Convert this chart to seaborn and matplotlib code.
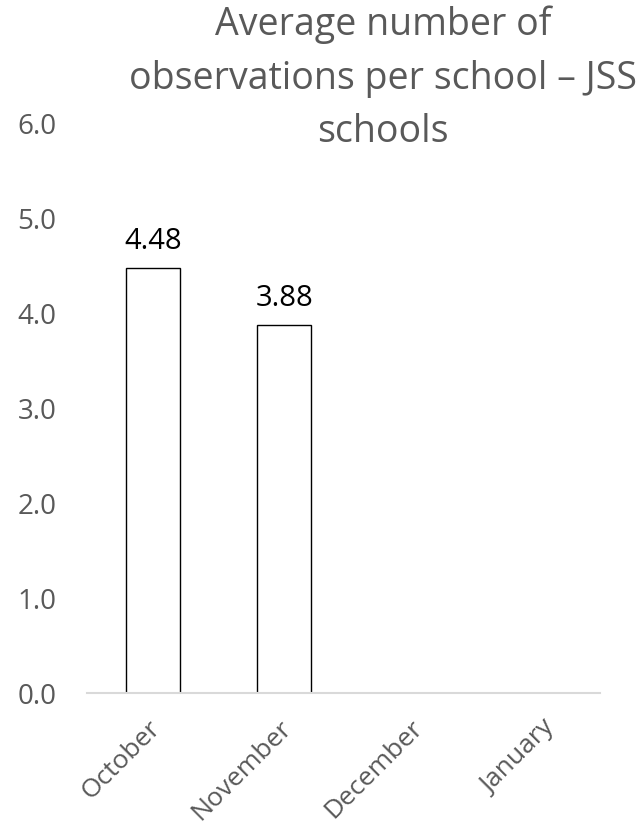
import numpy as np
import pandas as pd
import seaborn as sns
import matplotlib.pyplot as plt
import matplotlib.transforms as mtrans

# chart data
months = ['October', 'November', 'December', 'January']
avg_obs = [4.48, 3.88, np.nan, np.nan]
title = 'Average number of\nobservations per school – JSS\nschools'

df = pd.DataFrame({'month': months, 'avg': avg_obs})

sns.set_style('white')
plt.rcParams['font.family'] = ['Open Sans', 'DejaVu Sans']

fig = plt.figure(figsize=(6.41, 8.31), dpi=100)
ax = fig.add_axes([87 / 641, 138 / 831, 513 / 641, 569 / 831])

sns.barplot(data=df, x='month', y='avg', order=months, color='white',
            edgecolor='black', linewidth=1.0, width=0.41, ax=ax)

# value labels above bars
for x, v in enumerate(avg_obs):
    if not np.isnan(v):
        ax.annotate(f'{v:.2f}', (x, v), xytext=(0, 14), textcoords='offset points',
                    ha='center', va='baseline', fontsize=21, color='black')

ax.set_ylim(0, 6)
ax.set_xlim(-0.5, 3.4)
ax.set_yticks(np.arange(0, 6.1, 1.0))
ax.set_yticklabels([f'{t:.1f}' for t in np.arange(0, 6.1, 1.0)])
ax.set_xlabel('')
ax.set_ylabel('')
ax.tick_params(axis='y', length=0, pad=22, labelsize=20, labelcolor='#595959')
ax.tick_params(axis='x', length=0, pad=16, labelsize=19, labelcolor='#595959')
shift = mtrans.ScaledTranslation(-5 / 100, 0, fig.dpi_scale_trans)
for lab in ax.get_xticklabels():
    lab.set_rotation(45)
    lab.set_ha('right')
    lab.set_rotation_mode('anchor')
    lab.set_transform(lab.get_transform() + shift)

for s in ['top', 'right', 'left']:
    ax.spines[s].set_visible(False)
ax.spines['bottom'].set_color('#d9d9d9')
ax.spines['bottom'].set_linewidth(1.5)

# baseline alignment uses the last line of the title
fig.text(383 / 641, 1 - 142 / 831, title, ha='center', va='baseline',
         fontsize=27, color='#595959', linespacing=1.53)

fig.savefig('out.png', dpi=100)
